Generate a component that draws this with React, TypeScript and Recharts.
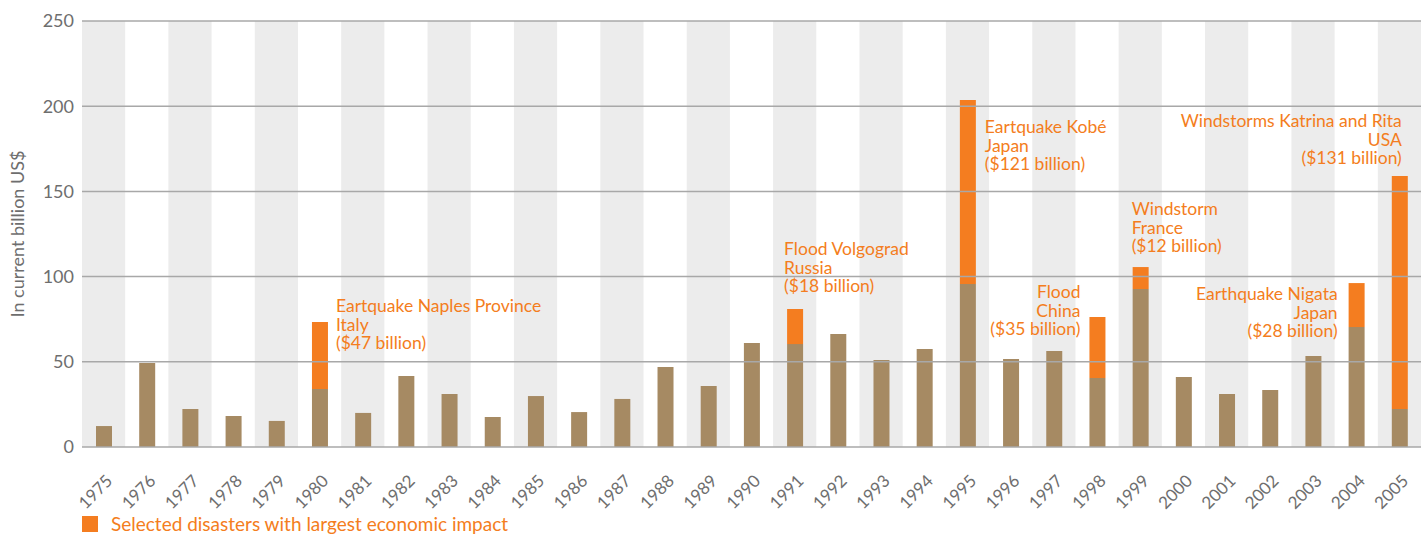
import React from 'react'
import { BarChart, Bar, XAxis, YAxis, ReferenceArea, ReferenceLine, LabelList, Legend } from 'recharts'

// Economic losses from natural disasters, in current billion US$
const years = [
  '1975', '1976', '1977', '1978', '1979', '1980', '1981', '1982', '1983', '1984',
  '1985', '1986', '1987', '1988', '1989', '1990', '1991', '1992', '1993', '1994',
  '1995', '1996', '1997', '1998', '1999', '2000', '2001', '2002', '2003', '2004', '2005',
]

const otherLosses = [
  12.3, 49.3, 22.3, 18.2, 15.3, 34, 20, 41.7, 31.1, 17.6,
  29.9, 20.5, 28.2, 46.9, 35.8, 61, 60.4, 66.3, 51, 57.5,
  95.7, 51.6, 56.3, 40.5, 92.7, 41.1, 31.1, 33.5, 53.4, 70.4, 22.3,
]

// Selected disasters with largest economic impact (stacked on top)
const selectedLosses = [
  0, 0, 0, 0, 0, 39.4, 0, 0, 0, 0,
  0, 0, 0, 0, 0, 0, 20.6, 0, 0, 0,
  107.9, 0, 0, 35.8, 12.9, 0, 0, 0, 0, 25.8, 136.7,
]

const yTicks = [0, 50, 100, 150, 200, 250]

const annotationText: Record<string, string[]> = {
  '1980': ['Eartquake Naples Province', 'Italy', '($47 billion)'],
  '1991': ['Flood Volgograd', 'Russia', '($18 billion)'],
  '1995': ['Eartquake Kobé', 'Japan', '($121 billion)'],
  '1998': ['Flood', 'China', '($35 billion)'],
  '1999': ['Windstorm', 'France', '($12 billion)'],
  '2004': ['Earthquake Nigata', 'Japan', '($28 billion)'],
  '2005': ['Windstorms Katrina and Rita', 'USA', '($131 billion)'],
}

// where each note sits relative to its orange bar (left edge / top)
const annotationLayout: Record<string, { anchor: 'start' | 'end'; dx: number; dy: number }> = {
  '1980': { anchor: 'start', dx: 24, dy: -10 },
  '1991': { anchor: 'start', dx: -3, dy: -54 },
  '1995': { anchor: 'start', dx: 25, dy: 33 },
  '1998': { anchor: 'end', dx: -9, dy: -19 },
  '1999': { anchor: 'start', dx: -1, dy: -52 },
  '2004': { anchor: 'end', dx: -11, dy: 17 },
  '2005': { anchor: 'end', dx: 10, dy: -49 },
}

const BROWN = '#a68a63'
const ORANGE = '#f47d20'
const BAND = '#ececec'
const GRID = '#a8a8a8'
const TEXT = '#6e6e6e'
const FONT = 'Lato, sans-serif'

const chartData = years.map((year, i) => ({
  year,
  other: otherLosses[i],
  selected: selectedLosses[i],
}))

const YearTick = (props: any) => {
  const { x, y, payload } = props
  return (
    <g transform={`translate(${x + 10},${y + 27})`}>
      <text textAnchor="end" transform="rotate(-45)" fill={TEXT} fontSize={17} fontFamily={FONT}>
        {payload.value}
      </text>
    </g>
  )
}

const Annotation = (props: any) => {
  const vb = props.viewBox || props
  const year = String(props.value)
  const lines = annotationText[year]
  if (!lines || vb == null) return null
  const layout = annotationLayout[year]
  const x = vb.x + layout.dx
  const y = vb.y + layout.dy
  return (
    <text x={x} y={y} textAnchor={layout.anchor} fill={ORANGE} fontSize={17.5} fontFamily={FONT}>
      {lines.map((line, i) => (
        <tspan key={i} x={x} dy={i === 0 ? 0 : 18.7}>
          {line}
        </tspan>
      ))}
    </text>
  )
}

const renderLegend = () => (
  <div style={{ display: 'flex', alignItems: 'center', paddingLeft: 82, paddingTop: 5, fontFamily: FONT }}>
    <span style={{ display: 'inline-block', width: 16, height: 16, background: ORANGE }} />
    <span style={{ marginLeft: 13, color: ORANGE, fontSize: 19 }}>Selected disasters with largest economic impact</span>
  </div>
)

export default function App() {
  return (
    <div style={{ position: 'absolute', left: 0, top: 0, background: '#fff' }}>
      <BarChart
        width={1421}
        height={536}
        data={chartData}
        margin={{ top: 21, right: 0, bottom: 0, left: 0 }}
        barSize={16}
      >
        {years.map((year, i) =>
          i % 2 === 0 ? (
            <ReferenceArea key={year} x1={year} x2={year} y1={0} y2={250} fill={BAND} fillOpacity={1} stroke="none" />
          ) : null
        )}
        {yTicks.slice(1).map(t => (
          <ReferenceLine key={t} y={t} stroke={GRID} strokeWidth={1.5} />
        ))}
        <XAxis
          dataKey="year"
          interval={0}
          tickLine={false}
          axisLine={{ stroke: GRID, strokeWidth: 1.5 }}
          tick={<YearTick />}
          height={60}
        />
        <YAxis
          width={82}
          domain={[0, 250]}
          ticks={yTicks}
          tickLine={false}
          axisLine={false}
          tick={{ fill: TEXT, fontSize: 18, fontFamily: FONT }}
          label={{
            value: 'In current billion US$',
            angle: -90,
            position: 'center',
            dx: -23,
            fill: TEXT,
            fontSize: 18,
            fontFamily: FONT,
          }}
        />
        <Legend verticalAlign="bottom" height={29} content={renderLegend} />
        <Bar dataKey="other" stackId="a" fill={BROWN} isAnimationActive={false} />
        <Bar dataKey="selected" stackId="a" fill={ORANGE} isAnimationActive={false}>
          <LabelList dataKey="year" content={<Annotation />} />
        </Bar>
      </BarChart>
    </div>
  )
}
